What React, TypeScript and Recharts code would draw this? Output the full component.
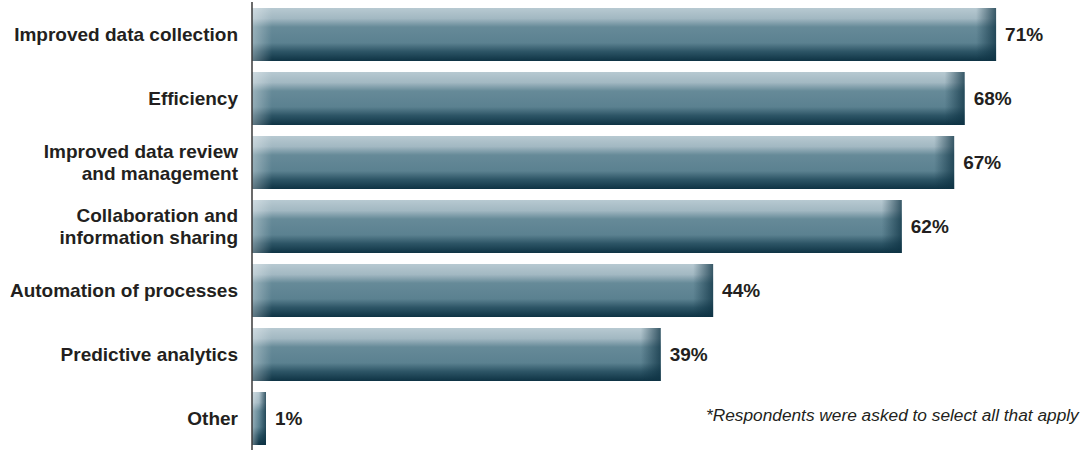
import React from "react";
import { Bar, BarChart, LabelList, XAxis, YAxis } from "recharts";

const categories = [
  "Improved data collection",
  "Efficiency",
  "Improved data review\nand management",
  "Collaboration and\ninformation sharing",
  "Automation of processes",
  "Predictive analytics",
  "Other",
];
const values = [71, 68, 67, 62, 44, 39, 1];

const data = categories.map((name, i) => ({ name, value: values[i] }));

const FONT = "'Liberation Sans', Arial, Helvetica, sans-serif";

const CategoryTick = ({ x, y, payload }: any) => {
  const lines = String(payload.value).split("\n");
  const lh = 22;
  const start = -((lines.length - 1) * lh) / 2;
  return (
    <text
      x={x - 6}
      y={y}
      textAnchor="end"
      fill="#231f20"
      fontFamily={FONT}
      fontWeight="bold"
      fontSize={19}
    >
      {lines.map((l, i) => (
        <tspan key={i} x={x - 6} dy={i === 0 ? start + 6.5 : lh}>
          {l}
        </tspan>
      ))}
    </text>
  );
};

const ShinyBar = ({ x, y, width, height }: any) => {
  if (!width || width <= 0) return null;
  const edge = Math.min(20, width / 2);
  return (
    <g>
      <rect x={x} y={y} width={width} height={height} fill="url(#barV)" />
      <rect x={x} y={y} width={edge} height={height} fill="url(#barL)" />
      <rect x={x + width - edge} y={y} width={edge} height={height} fill="url(#barR)" />
    </g>
  );
};

export default function App() {
  return (
    <div style={{ position: "absolute", left: 0, top: 0, width: 1080, height: 453, background: "#fff" }}>
      <BarChart
        width={1080}
        height={453}
        data={data}
        layout="vertical"
        margin={{ top: 2, right: 42, bottom: 3, left: 0 }}
        barSize={53}
      >
        <defs>
          <linearGradient id="barV" x1="0" y1="0" x2="0" y2="1">
            <stop offset="0%" stopColor="#b7c9d1" />
            <stop offset="20%" stopColor="#a2b8c2" />
            <stop offset="36%" stopColor="#668a98" />
            <stop offset="66%" stopColor="#5b8190" />
            <stop offset="82%" stopColor="#2d5566" />
            <stop offset="100%" stopColor="#0e3344" />
          </linearGradient>
          <linearGradient id="barL" x1="0" y1="0" x2="1" y2="0">
            <stop offset="0%" stopColor="#ffffff" stopOpacity={0.35} />
            <stop offset="100%" stopColor="#ffffff" stopOpacity={0} />
          </linearGradient>
          <linearGradient id="barR" x1="0" y1="0" x2="1" y2="0">
            <stop offset="0%" stopColor="#0e3344" stopOpacity={0} />
            <stop offset="100%" stopColor="#0e3344" stopOpacity={0.75} />
          </linearGradient>
        </defs>
        <XAxis type="number" domain={[0, 75]} hide />
        <YAxis
          type="category"
          dataKey="name"
          width={252}
          axisLine={{ stroke: "#3a3a3a", strokeWidth: 1.5 }}
          tickLine={false}
          tick={<CategoryTick />}
          interval={0}
        />
        <Bar
          dataKey="value"
          shape={<ShinyBar />}
          minPointSize={14}
          isAnimationActive={false}
        >
          <LabelList
            dataKey="value"
            position="right"
            offset={9}
            formatter={(v: any) => `${v}%`}
            fill="#231f20"
            fontFamily={FONT}
            fontWeight="bold"
            fontSize={19}
          />
        </Bar>
      </BarChart>
      <div
        style={{
          position: "absolute",
          left: 706,
          top: 405,
          fontFamily: FONT,
          fontStyle: "italic",
          fontSize: 17.3,
          color: "#231f20",
          whiteSpace: "nowrap",
        }}
      >
        *Respondents were asked to select all that apply
      </div>
    </div>
  );
}
